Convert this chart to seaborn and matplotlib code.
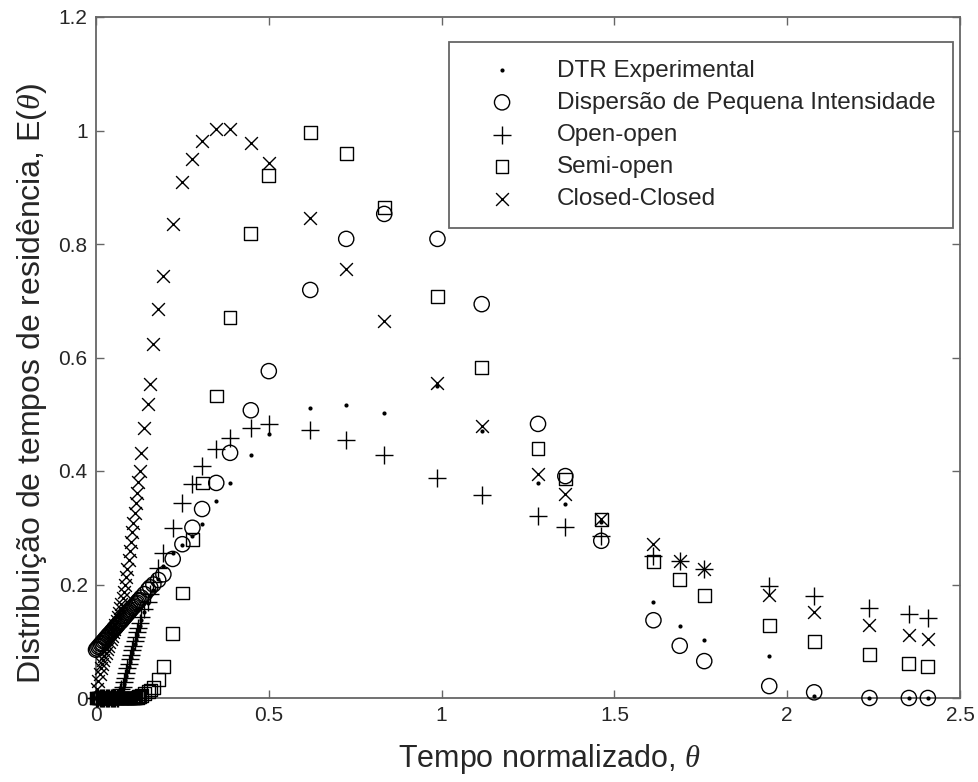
import numpy as np
import pandas as pd
import matplotlib
matplotlib.use("Agg")
import matplotlib.pyplot as plt
from matplotlib.ticker import FuncFormatter
import seaborn as sns

# ---------------- data ----------------
theta = [0.0000, 0.0035, 0.0070, 0.0105, 0.0140, 0.0175, 0.0210, 0.0245, 0.0280, 0.0315,
         0.0350, 0.0385, 0.0420, 0.0455, 0.0490, 0.0525, 0.0560, 0.0595, 0.0630, 0.0665,
         0.0700, 0.0735, 0.0770, 0.0805, 0.0840, 0.0875, 0.0910, 0.0945, 0.0980, 0.1015,
         0.1050, 0.1085, 0.1120, 0.1155, 0.1190, 0.1225, 0.1260, 0.131, 0.140, 0.151,
         0.157, 0.166, 0.180, 0.195, 0.222, 0.250, 0.279, 0.307, 0.348, 0.388,
         0.448, 0.500, 0.620, 0.724, 0.834, 0.988, 1.116, 1.279, 1.358, 1.462,
         1.613, 1.689, 1.760, 1.948, 2.078, 2.238, 2.352, 2.407]

dtr_experimental = [0, 0, 0, 0, 0, 0, 0, 0, 0, 0,
                    0, 0, 0, 0, 0, 0, 0, 0, 0, 0.003,
                    0.007, 0.012, 0.017, 0.024, 0.031, 0.039, 0.047, 0.055, 0.063, 0.071,
                    0.079, 0.087, 0.095, 0.103, 0.111, 0.119, 0.127, 0.137, 0.152, 0.168,
                    0.180, 0.190, 0.210, 0.232, 0.255, 0.270, 0.285, 0.307, 0.347, 0.379,
                    0.428, 0.465, 0.511, 0.516, 0.502, 0.550, 0.470, 0.379, 0.342, 0.310,
                    0.169, 0.127, 0.102, 0.074, 0.003, 0.0, 0.0, 0.0]

dispersao = [0.085, 0.087, 0.090, 0.092, 0.095, 0.097, 0.100, 0.102, 0.105, 0.107,
             0.110, 0.112, 0.114, 0.117, 0.119, 0.122, 0.124, 0.127, 0.129, 0.132,
             0.134, 0.136, 0.139, 0.141, 0.144, 0.146, 0.149, 0.151, 0.154, 0.156,
             0.159, 0.161, 0.163, 0.166, 0.168, 0.171, 0.173, 0.177, 0.183, 0.191,
             0.195, 0.200, 0.208, 0.218, 0.245, 0.271, 0.300, 0.333, 0.379, 0.432,
             0.507, 0.576, 0.719, 0.809, 0.853, 0.809, 0.694, 0.483, 0.391, 0.277,
             0.137, 0.092, 0.065, 0.021, 0.010, 0.0, 0.0, 0.0]

open_open = [0, 0, 0, 0, 0, 0, 0, 0, 0, 0,
             0, 0, 0, 0, 0, 0, 0, 0, 0, 0.005,
             0.010, 0.015, 0.020, 0.028, 0.036, 0.044, 0.052, 0.060, 0.068, 0.076,
             0.084, 0.092, 0.100, 0.108, 0.116, 0.124, 0.132, 0.142, 0.156, 0.170,
             0.184, 0.205, 0.229, 0.255, 0.300, 0.344, 0.377, 0.409, 0.439, 0.458,
             0.476, 0.483, 0.472, 0.455, 0.428, 0.388, 0.358, 0.321, 0.301, 0.285,
             0.250, 0.241, 0.227, 0.197, 0.180, 0.159, 0.148, 0.141]

semi_open = [0, 0, 0, 0, 0, 0, 0, 0, 0, 0,
             0, 0, 0, 0, 0, 0, 0, 0, 0, 0,
             0, 0, 0, 0, 0, 0, 0, 0, 0, 0,
             0, 0, 0, 0, 0.001, 0.002, 0.003, 0.005, 0.008, 0.012,
             0.014, 0.018, 0.033, 0.056, 0.113, 0.185, 0.280, 0.379, 0.532, 0.670,
             0.818, 0.920, 0.997, 0.959, 0.865, 0.707, 0.582, 0.439, 0.386, 0.315,
             0.241, 0.209, 0.181, 0.128, 0.100, 0.076, 0.061, 0.055]

closed_closed = [0.000, 0.015, 0.030, 0.042, 0.052, 0.060, 0.067, 0.074, 0.080, 0.086,
                 0.092, 0.098, 0.104, 0.110, 0.116, 0.122, 0.128, 0.135, 0.142, 0.150,
                 0.158, 0.166, 0.176, 0.187, 0.199, 0.213, 0.228, 0.243, 0.259, 0.275,
                 0.292, 0.309, 0.326, 0.344, 0.362, 0.380, 0.400, 0.432, 0.476, 0.518,
                 0.553, 0.624, 0.685, 0.744, 0.835, 0.909, 0.950, 0.981, 1.003, 1.003,
                 0.978, 0.943, 0.846, 0.756, 0.664, 0.555, 0.479, 0.395, 0.360, 0.315,
                 0.271, 0.241, 0.227, 0.181, 0.152, 0.129, 0.111, 0.104]

series_labels = ["DTR Experimental", "Dispersão de Pequena Intensidade",
                 "Open-open", "Semi-open", "Closed-Closed"]
x_ticks = [0, 0.5, 1, 1.5, 2, 2.5]
y_ticks = [0, 0.2, 0.4, 0.6, 0.8, 1.0, 1.2]
x_label = "Tempo normalizado, $\\theta$"
y_label = "Distribuição de tempos de residência, E($\\theta$)"

# ---------------- style ----------------
sns.set_theme(style="white")
plt.rcParams["font.family"] = ["Liberation Sans", "DejaVu Sans"]
plt.rcParams["mathtext.fontset"] = "custom"
plt.rcParams["mathtext.it"] = "Liberation Serif:italic"
plt.rcParams["mathtext.rm"] = "Liberation Sans"

W, H = 979, 782
fig = plt.figure(figsize=(W / 100, H / 100), dpi=100)
ax = fig.add_axes([96 / W, 1 - 698 / H, (960 - 96) / W, (698 - 17) / H])

df = pd.DataFrame({"theta": theta, "exp": dtr_experimental, "disp": dispersao,
                   "oo": open_open, "so": semi_open, "cc": closed_closed})

ink = "black"
lw = 1.0
sns.scatterplot(data=df, x="theta", y="exp", marker="o", s=9, color=ink,
                linewidth=0, ax=ax, label=series_labels[0], clip_on=False, zorder=3)
sns.scatterplot(data=df, x="theta", y="disp", marker="o", s=120, facecolor="none",
                edgecolor=ink, linewidth=lw, ax=ax, label=series_labels[1],
                clip_on=False, zorder=3)
sns.scatterplot(data=df, x="theta", y="oo", marker="+", s=150, color=ink,
                linewidth=lw, ax=ax, label=series_labels[2], clip_on=False, zorder=3)
sns.scatterplot(data=df, x="theta", y="so", marker="s", s=85, facecolor="none",
                edgecolor=ink, linewidth=lw, ax=ax, label=series_labels[3],
                clip_on=False, zorder=3)
sns.scatterplot(data=df, x="theta", y="cc", marker="x", s=85, color=ink,
                linewidth=lw, ax=ax, label=series_labels[4], clip_on=False, zorder=3)

ax.set_xlim(0, 2.5)
ax.set_ylim(0, 1.2)
ax.set_xticks(x_ticks)
ax.set_yticks(y_ticks)
fmt = FuncFormatter(lambda v, p: f"{v:g}")
ax.xaxis.set_major_formatter(fmt)
ax.yaxis.set_major_formatter(fmt)

frame_col = "#666666"
text_col = "#262626"
for sp in ax.spines.values():
    sp.set_visible(True)
    sp.set_color(frame_col)
    sp.set_linewidth(1.3)
ax.tick_params(axis="both", which="major", direction="in", length=6, width=1.0,
               color=frame_col, labelsize=15, labelcolor=text_col,
               top=True, right=True, bottom=True, left=True, pad=6)

ax.set_xlabel(x_label, fontsize=22, color=text_col, labelpad=12)
ax.set_ylabel(y_label, fontsize=23, color=text_col, labelpad=7)
ax.xaxis.label.set_x(0.525)
ax.yaxis.label.set_y(0.462)

leg = ax.legend(loc="upper right", bbox_to_anchor=(953 / W, 1 - 42 / H),
                bbox_transform=fig.transFigure, frameon=True, fancybox=False,
                framealpha=1, edgecolor=frame_col, fontsize=17.5,
                borderaxespad=0, borderpad=0.72, labelspacing=0.42,
                handletextpad=0.78, handlelength=2.95, markerscale=1.0)
leg.get_frame().set_linewidth(1.3)
for t in leg.get_texts():
    t.set_color(text_col)

ax.grid(False)
fig.savefig("out.png", dpi=100, facecolor="white")
